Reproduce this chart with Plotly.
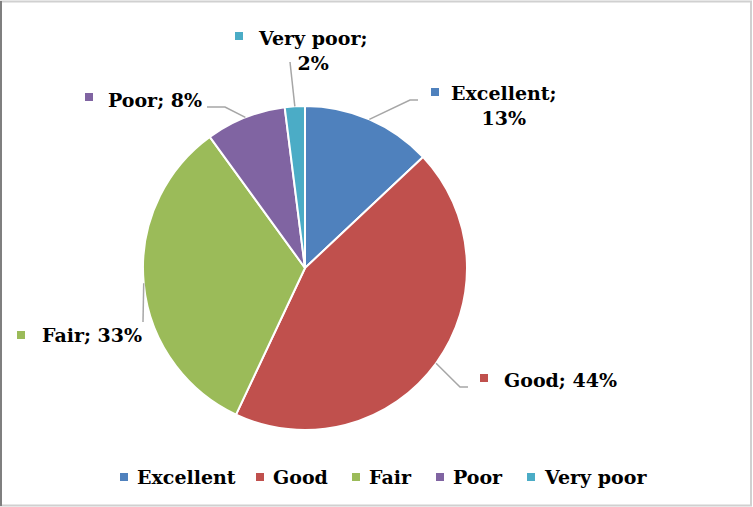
import math
import plotly.graph_objects as go

categories = ["Excellent", "Good", "Fair", "Poor", "Very poor"]
values = [13, 44, 33, 8, 2]
colors = ["#4F81BD", "#C0504D", "#9BBB59", "#8064A2", "#4BACC6"]

W, H = 753, 507
CX, CY, R = 305, 268, 162
FONT = dict(family="DejaVu Serif", size=19, color="#000000", weight="bold")
LINE_COLOR = "#A6A6A6"


def px(x):
    return x / W


def py(y):
    return 1 - y / H


fig = go.Figure(go.Pie(
    labels=categories, values=values, sort=False, direction="clockwise",
    rotation=0, textinfo="none", hoverinfo="label+percent",
    marker=dict(colors=colors, line=dict(color="#FFFFFF", width=2)),
    domain=dict(x=[px(CX - R), px(CX + R)], y=[py(CY + R), py(CY - R)]),
    showlegend=False,
))

total = sum(values)
mids = []
acc = 0
for v in values:
    mids.append((acc + v / 2) / total * 2 * math.pi)
    acc += v
edge = [(CX + R * math.sin(a), CY - R * math.cos(a)) for a in mids]
pct = [f"{round(v / total * 100)}%" for v in values]

# label layout: anchor x, anchor y, xanchor, square (x,y), leader elbow points
label_layout = {
    "Excellent": dict(x=504, y=106, xa="center", two=True, sq=(431, 88),
                      pts=[(410, 100), (418, 100)]),
    "Good": dict(x=502, y=380, xa="left", two=False, sq=(480, 374),
                 pts=[(460, 387), (468, 387)]),
    "Fair": dict(x=40, y=335, xa="left", two=False, sq=(17, 331),
                 pts=[(143, 322)]),
    "Poor": dict(x=106, y=100, xa="left", two=False, sq=(85, 93),
                 pts=[(225, 107), (207, 107)]),
    "Very poor": dict(x=312, y=50, xa="center", two=True, sq=(235, 32),
                      pts=[(290, 62)]),
}

shapes = []
annotations = []
SQ = 8
for i, cat in enumerate(categories):
    L = label_layout[cat]
    text = f"{cat};<br>{pct[i]}" if L["two"] else f"{cat}; {pct[i]}"
    annotations.append(dict(
        text=text, x=px(L["x"]), y=py(L["y"]), xref="paper", yref="paper",
        xanchor=L["xa"], yanchor="middle", showarrow=False, font=FONT,
        align="center"))
    sx, sy = L["sq"]
    shapes.append(dict(type="rect", xref="paper", yref="paper",
                       x0=px(sx), x1=px(sx + SQ), y0=py(sy + SQ), y1=py(sy),
                       fillcolor=colors[i], line=dict(width=0)))
    pts = [edge[i]] + L["pts"]
    path = "M " + " L ".join(f"{px(x)},{py(y)}" for x, y in pts)
    shapes.append(dict(type="path", xref="paper", yref="paper", path=path,
                       line=dict(color=LINE_COLOR, width=1.5)))

# manual legend
legend_sq_x = [120, 256, 352, 436, 527]
legend_y = 477
for i, cat in enumerate(categories):
    x0 = legend_sq_x[i]
    shapes.append(dict(type="rect", xref="paper", yref="paper",
                       x0=px(x0), x1=px(x0 + SQ), y0=py(legend_y + SQ / 2),
                       y1=py(legend_y - SQ / 2), fillcolor=colors[i],
                       line=dict(width=0)))
    annotations.append(dict(text=cat, x=px(x0 + 15), y=py(legend_y),
                            xref="paper", yref="paper", xanchor="left",
                            yanchor="middle", showarrow=False, font=FONT))

# chart border
shapes.append(dict(type="rect", xref="paper", yref="paper",
                   x0=px(1), x1=px(751), y0=py(505.5), y1=py(1.5),
                   line=dict(color="#D0D0D0", width=2)))
shapes.append(dict(type="line", xref="paper", yref="paper",
                   x0=px(1), x1=px(1), y0=py(506), y1=py(1),
                   line=dict(color="#7F7F7F", width=2)))

fig.update_layout(
    width=W, height=H, autosize=False,
    margin=dict(l=0, r=0, t=0, b=0),
    paper_bgcolor="#FFFFFF", plot_bgcolor="#FFFFFF",
    shapes=shapes, annotations=annotations,
)

fig.write_html("out.html", config={"displayModeBar": False},
               post_script="document.body.style.margin='0';"
                           "document.body.style.overflow='hidden';")
